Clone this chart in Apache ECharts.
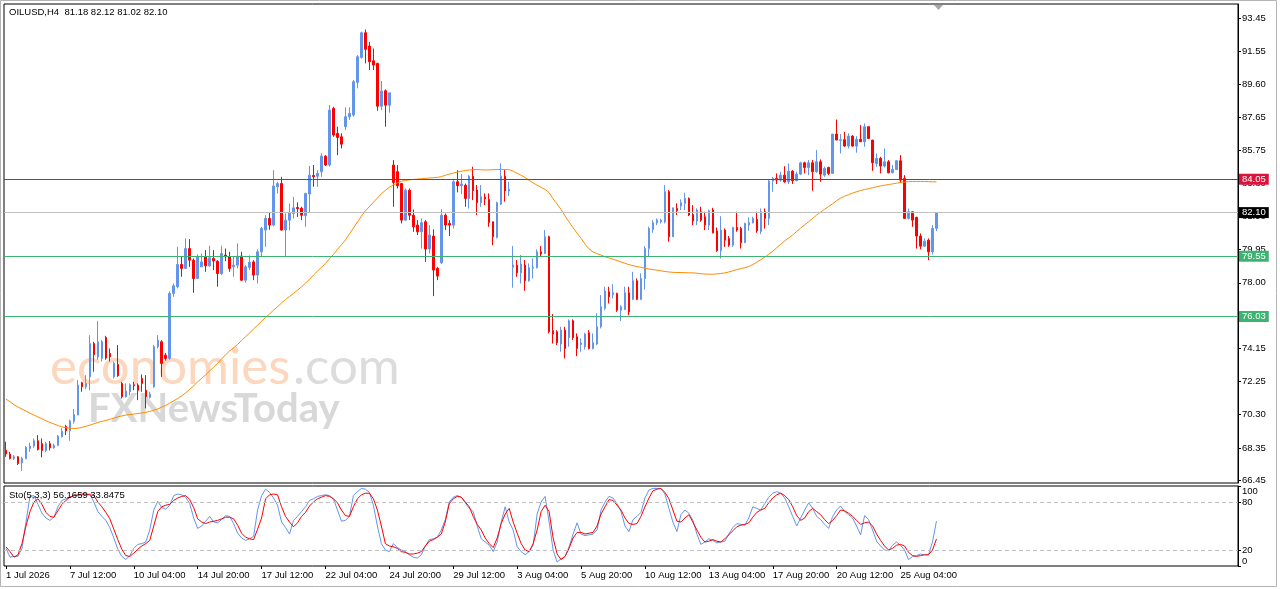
<!DOCTYPE html>
<html>
<head>
	<meta charset="utf-8">
	<title>OILUSD H4</title>
	<script type="text/javascript" src="https://cdn.jsdelivr.net/npm/echarts@6/dist/echarts.min.js"></script>
	<style>html,body{margin:0;padding:0;background:#fff;}</style>
</head>
<body>
	<div id="main" style="width:1280px;height:589px;"></div>
	<script type="text/javascript">
		var symbolName = 'OILUSD,H4';

		// OHLC of every H4 bar
		var openP = [
			68.22, 67.99, 67.73, 67.83, 67.48, 67.73, 68.32, 68.46, 68.77, 68.60,
			68.20, 68.60, 68.35, 68.50, 69.00, 69.60, 69.35, 69.91, 70.27, 72.16,
			71.92, 72.51, 74.45, 73.67, 73.58, 74.80, 73.87, 72.50, 73.23, 72.12,
			71.34, 71.63, 72.04, 72.02, 72.41, 71.72, 71.30, 71.92, 74.26, 74.55,
			73.77, 73.58, 77.38, 77.77, 79.07, 78.84, 80.00, 79.32, 78.25, 78.93,
			79.52, 78.99, 79.42, 79.26, 78.54, 79.62, 79.52, 78.93, 79.03, 79.56,
			78.15, 78.90, 79.22, 78.45, 79.81, 81.08, 81.76, 81.37, 83.61, 83.80,
			81.08, 81.66, 82.05, 82.40, 82.35, 81.92, 83.19, 84.27, 84.22, 84.49,
			85.40, 84.88, 88.19, 86.73, 86.53, 87.12, 87.70, 87.80, 89.71, 91.17,
			92.61, 91.83, 90.97, 90.82, 88.32, 89.22, 88.38, 84.88, 84.49, 83.80,
			81.66, 83.41, 81.95, 81.37, 80.98, 81.56, 79.97, 80.73, 78.84, 79.17,
			81.95, 81.47, 81.37, 83.90, 83.67, 83.70, 82.93, 84.23, 83.42, 82.68,
			83.00, 82.87, 81.57, 80.65, 82.60, 84.23, 83.36, 78.90, 79.03, 78.58,
			79.03, 78.12, 78.85, 78.88, 79.81, 79.71, 80.69, 75.20, 75.14, 74.42,
			75.23, 74.80, 75.78, 74.85, 74.40, 74.26, 75.08, 74.16, 74.42, 75.43,
			76.51, 77.47, 77.30, 77.38, 76.40, 76.44, 77.42, 77.03, 78.12, 77.03,
			78.25, 80.01, 81.12, 81.50, 81.56, 81.56, 83.32, 80.69, 82.34, 82.48,
			82.64, 82.93, 81.99, 81.61, 82.15, 81.86, 81.37, 82.25, 81.03, 79.87,
			81.08, 80.59, 80.20, 81.23, 81.17, 80.34, 81.37, 81.51, 81.70, 81.00,
			82.15, 81.76, 83.94, 84.10, 84.00, 84.29, 83.90, 84.52, 83.96, 84.35,
			85.01, 84.74, 85.01, 84.49, 85.07, 84.29, 84.74, 84.39, 86.69, 86.32,
			86.36, 85.99, 86.57, 85.99, 86.38, 86.24, 87.12, 86.34, 84.97, 85.27,
			84.82, 85.07, 84.43, 84.62, 85.13, 84.10, 81.76, 82.15, 81.82, 80.73,
			80.14, 80.49, 79.81, 81.18
		];
		var highP = [
			68.71, 68.12, 67.93, 67.87, 67.83, 68.46, 68.65, 68.90, 69.10, 68.90,
			68.70, 68.75, 68.60, 69.10, 69.50, 69.70, 70.00, 70.62, 72.31, 72.21,
			72.60, 74.94, 74.55, 75.76, 74.65, 74.90, 74.16, 73.40, 74.36, 72.21,
			72.12, 72.12, 72.21, 72.12, 72.64, 72.60, 71.63, 74.36, 74.94, 74.65,
			73.90, 77.50, 77.96, 80.10, 79.56, 80.59, 80.55, 79.42, 79.66, 79.71,
			79.91, 80.16, 79.91, 79.32, 80.16, 80.00, 79.81, 79.52, 80.30, 79.81,
			79.03, 79.60, 79.32, 79.95, 81.27, 81.95, 82.09, 84.58, 83.90, 84.19,
			82.05, 82.63, 83.02, 82.70, 82.44, 83.26, 84.83, 84.88, 84.58, 85.56,
			85.46, 88.38, 88.28, 87.12, 86.73, 88.25, 88.25, 89.85, 91.30, 92.67,
			92.80, 92.08, 91.69, 90.86, 89.79, 89.30, 89.10, 85.17, 84.88, 83.80,
			83.51, 83.51, 82.28, 81.66, 81.76, 81.66, 81.37, 81.12, 78.93, 82.30,
			82.05, 81.66, 84.00, 84.58, 84.35, 83.80, 84.29, 84.78, 83.71, 83.71,
			83.22, 83.22, 81.57, 82.74, 84.98, 84.62, 83.90, 80.14, 79.33, 79.62,
			79.33, 79.13, 79.42, 79.95, 80.14, 81.08, 80.75, 76.17, 75.23, 75.43,
			75.43, 75.86, 75.86, 75.04, 74.75, 75.08, 75.23, 75.04, 76.21, 77.28,
			77.77, 77.77, 77.92, 77.42, 76.69, 77.77, 77.77, 78.64, 78.25, 78.55,
			80.14, 81.27, 81.66, 81.76, 81.74, 83.71, 83.42, 82.38, 82.64, 82.87,
			83.26, 82.99, 82.54, 82.35, 82.44, 82.15, 82.28, 82.38, 81.23, 81.89,
			81.17, 80.73, 81.27, 82.15, 81.27, 81.51, 81.82, 81.86, 82.15, 82.34,
			82.34, 84.00, 84.19, 84.39, 84.49, 84.81, 84.97, 84.58, 84.49, 85.07,
			85.07, 85.17, 85.17, 85.75, 85.21, 84.78, 84.78, 86.69, 87.54, 86.69,
			86.82, 86.73, 86.63, 86.57, 87.21, 87.31, 87.12, 86.34, 85.56, 85.36,
			85.85, 85.17, 84.88, 85.17, 85.46, 84.29, 82.34, 82.15, 81.86, 80.88,
			80.59, 80.59, 81.37, 82.12
		];
		var lowP = [
			67.83, 67.68, 67.64, 67.35, 67.01, 67.68, 68.12, 68.36, 68.20, 67.80,
			68.10, 68.20, 68.30, 68.45, 68.96, 69.10, 68.77, 69.78, 70.27, 71.63,
			71.78, 71.72, 72.80, 73.50, 73.40, 73.50, 73.40, 72.40, 72.50, 71.24,
			71.30, 71.43, 71.72, 71.14, 71.63, 70.66, 71.24, 71.86, 74.16, 72.50,
			73.45, 73.50, 77.18, 77.67, 78.35, 78.84, 78.93, 77.41, 78.25, 78.93,
			78.64, 78.93, 78.74, 77.77, 78.45, 79.26, 78.64, 78.35, 78.84, 78.10,
			78.00, 78.74, 78.15, 77.96, 79.52, 80.10, 81.10, 81.30, 83.22, 81.05,
			79.52, 81.05, 81.76, 81.85, 81.66, 81.27, 82.09, 83.61, 83.61, 84.19,
			84.82, 84.78, 86.53, 85.46, 85.85, 86.92, 87.51, 87.70, 89.36, 91.10,
			90.82, 90.43, 90.43, 88.05, 88.09, 87.12, 87.94, 82.44, 83.51, 81.47,
			81.62, 81.66, 80.98, 80.79, 80.00, 79.22, 79.71, 77.22, 78.15, 79.10,
			81.08, 80.73, 81.17, 83.28, 83.18, 82.44, 82.34, 82.83, 81.96, 82.44,
			82.54, 81.27, 80.20, 80.59, 82.54, 82.74, 83.07, 77.71, 78.35, 77.96,
			77.53, 78.06, 78.25, 78.84, 79.56, 79.68, 75.04, 74.45, 74.36, 73.97,
			73.58, 74.26, 74.65, 73.71, 73.97, 74.10, 74.10, 74.10, 74.36, 75.33,
			76.40, 76.79, 77.08, 76.30, 75.76, 76.40, 76.11, 76.99, 76.99, 76.99,
			77.61, 79.52, 80.92, 81.37, 81.47, 81.47, 80.40, 80.69, 81.96, 82.25,
			82.25, 81.90, 81.37, 81.37, 81.56, 81.08, 81.08, 80.88, 79.81, 79.42,
			80.10, 80.10, 80.10, 80.98, 80.00, 80.34, 81.04, 81.47, 80.92, 80.84,
			81.17, 81.37, 83.32, 83.77, 83.90, 83.84, 83.77, 83.77, 83.96, 84.29,
			84.39, 84.29, 83.38, 84.43, 83.90, 84.19, 84.29, 84.39, 86.34, 85.56,
			85.95, 85.85, 85.95, 85.60, 86.24, 85.95, 86.43, 84.54, 84.78, 84.39,
			84.74, 84.39, 84.39, 84.58, 83.84, 81.76, 81.70, 81.27, 80.00, 79.95,
			80.10, 79.32, 79.65, 81.02
		];
		var closeP = [
			67.99, 67.73, 67.83, 67.44, 67.73, 68.38, 68.46, 68.77, 68.26, 68.20,
			68.60, 68.35, 68.50, 69.04, 69.33, 69.35, 69.93, 70.31, 72.02, 71.92,
			72.12, 74.45, 73.80, 74.55, 74.55, 73.60, 73.67, 73.29, 72.57, 71.34,
			71.67, 72.04, 71.98, 71.72, 72.12, 71.34, 71.50, 74.26, 74.65, 73.29,
			73.58, 77.38, 77.82, 79.07, 78.84, 80.00, 79.32, 78.25, 79.52, 79.22,
			78.99, 79.46, 79.28, 78.54, 79.71, 79.52, 78.84, 79.03, 79.56, 78.15,
			78.93, 79.20, 78.45, 79.81, 81.17, 81.76, 81.37, 83.65, 83.80, 81.08,
			81.66, 82.09, 82.38, 82.33, 81.95, 83.22, 84.29, 84.20, 84.39, 85.40,
			84.88, 88.09, 86.63, 86.49, 86.10, 87.70, 87.90, 89.75, 91.21, 92.61,
			91.64, 90.91, 90.72, 88.32, 89.20, 88.38, 89.10, 83.86, 83.67, 81.66,
			83.41, 81.95, 81.27, 80.98, 81.51, 79.97, 80.79, 78.74, 78.39, 81.95,
			81.37, 81.37, 83.90, 83.67, 83.77, 82.93, 84.23, 83.38, 82.68, 83.03,
			82.90, 81.51, 80.69, 82.68, 84.23, 83.36, 83.47, 79.05, 78.58, 79.09,
			78.12, 78.88, 78.90, 79.81, 79.68, 80.69, 75.14, 75.00, 74.50, 75.23,
			74.16, 75.78, 74.80, 74.16, 74.48, 75.00, 74.16, 74.50, 75.43, 76.60,
			77.52, 77.18, 77.42, 76.40, 76.60, 77.42, 76.30, 78.12, 77.03, 78.25,
			80.01, 81.18, 81.51, 81.66, 81.66, 83.32, 80.69, 82.38, 82.21, 82.68,
			82.93, 81.96, 81.61, 82.25, 81.66, 81.37, 82.21, 80.92, 79.87, 81.08,
			80.49, 80.20, 81.23, 81.08, 80.34, 81.47, 81.52, 81.76, 81.04, 82.15,
			81.76, 83.94, 84.10, 84.00, 84.29, 83.90, 84.52, 83.96, 84.35, 85.01,
			84.74, 85.01, 84.49, 85.07, 84.35, 84.68, 84.39, 86.69, 86.34, 86.36,
			85.99, 86.57, 85.99, 86.38, 86.24, 87.12, 86.43, 85.01, 85.27, 84.82,
			85.07, 84.43, 84.62, 85.13, 84.00, 81.76, 82.15, 81.66, 80.73, 80.14,
			80.43, 79.81, 81.17, 82.10
		];

		// moving average line (orange)
		var maValues = [
			71.20, 71.05, 70.88, 70.74, 70.62, 70.50, 70.38, 70.27, 70.16, 70.05,
			69.94, 69.84, 69.75, 69.66, 69.58, 69.53, 69.50, 69.49, 69.50, 69.55,
			69.61, 69.68, 69.76, 69.84, 69.90, 69.95, 70.02, 70.09, 70.16, 70.22,
			70.27, 70.30, 70.33, 70.36, 70.39, 70.43, 70.48, 70.55, 70.63, 70.73,
			70.84, 70.97, 71.10, 71.24, 71.39, 71.57, 71.77, 71.98, 72.21, 72.42,
			72.62, 72.85, 73.07, 73.30, 73.55, 73.80, 74.02, 74.20, 74.40, 74.63,
			74.85, 75.07, 75.30, 75.52, 75.75, 75.97, 76.18, 76.40, 76.60, 76.82,
			77.02, 77.20, 77.38, 77.57, 77.76, 77.98, 78.20, 78.45, 78.68, 78.90,
			79.13, 79.40, 79.66, 79.95, 80.22, 80.50, 80.85, 81.20, 81.55, 81.90,
			82.20, 82.45, 82.70, 82.95, 83.20, 83.40, 83.58, 83.72, 83.84, 83.93,
			83.98, 84.01, 84.04, 84.06, 84.08, 84.10, 84.12, 84.14, 84.16, 84.20,
			84.28, 84.35, 84.41, 84.47, 84.52, 84.56, 84.59, 84.61, 84.62, 84.60,
			84.59, 84.60, 84.61, 84.62, 84.62, 84.62, 84.61, 84.52, 84.40, 84.28,
			84.15, 83.98, 83.84, 83.70, 83.58, 83.45, 83.27, 82.90, 82.60, 82.28,
			81.90, 81.55, 81.22, 80.90, 80.60, 80.25, 79.98, 79.80, 79.70, 79.62,
			79.52, 79.45, 79.38, 79.30, 79.22, 79.14, 79.06, 79.00, 78.95, 78.90,
			78.85, 78.80, 78.77, 78.74, 78.70, 78.66, 78.63, 78.61, 78.60, 78.60,
			78.59, 78.58, 78.58, 78.56, 78.53, 78.51, 78.50, 78.50, 78.52, 78.54,
			78.58, 78.63, 78.70, 78.77, 78.83, 78.88, 78.95, 79.06, 79.20, 79.35,
			79.50, 79.67, 79.85, 80.05, 80.25, 80.45, 80.62, 80.80, 81.00, 81.20,
			81.38, 81.57, 81.76, 81.96, 82.13, 82.30, 82.46, 82.62, 82.80, 82.95,
			83.06, 83.15, 83.24, 83.32, 83.39, 83.45, 83.50, 83.56, 83.61, 83.66,
			83.70, 83.74, 83.78, 83.82, 83.86, 83.89, 83.91, 83.92, 83.92, 83.92,
			83.92, 83.91, 83.90, 83.90
		];

		// Stochastic (5,3,3): main and signal lines
		var stochK = [
			22, 11, 12, 12, 22, 55, 87, 88, 77, 66,
			60, 57, 61, 74, 82, 84, 86, 88, 88, 89,
			89, 90, 80, 68, 62, 57, 48, 35, 21, 12,
			8, 13, 22, 27, 28, 30, 45, 70, 81, 73,
			71, 76, 88, 90, 89, 86, 78, 60, 47, 50,
			56, 62, 55, 54, 58, 63, 62, 53, 41, 35,
			32, 34, 37, 70, 88, 96, 92, 85, 76, 55,
			48, 40, 57, 62, 68, 74, 82, 84, 87, 88,
			89, 88, 84, 70, 56, 57, 62, 88, 93, 97,
			96, 92, 76, 50, 28, 20, 18, 28, 23, 20,
			18, 14, 11, 10, 14, 25, 33, 34, 36, 45,
			58, 80, 86, 88, 86, 79, 72, 68, 50, 34,
			30, 26, 18, 30, 55, 74, 55, 45, 24, 18,
			14, 18, 26, 65, 80, 87, 55, 20, 5, 9,
			12, 24, 40, 54, 40, 38, 39, 40, 45, 70,
			80, 87, 85, 78, 68, 50, 43, 58, 62, 67,
			85, 95, 97, 97, 97, 90, 72, 55, 43, 64,
			70, 66, 57, 40, 27, 30, 34, 32, 29, 30,
			31, 40, 48, 53, 52, 51, 60, 74, 72, 70,
			78, 86, 91, 93, 91, 85, 74, 62, 50, 60,
			70, 79, 72, 62, 58, 52, 47, 62, 70, 75,
			68, 64, 60, 50, 39, 63, 58, 45, 31, 25,
			20, 19, 26, 30, 26, 20, 8, 12, 13, 15,
			14, 14, 30, 56.1659
		];
		var stochD = [
			24, 18, 11, 14, 28, 50, 68, 80, 84, 77,
			67, 62, 61, 69, 77, 82, 86, 88, 89, 90,
			90, 89, 88, 80, 74, 67, 59, 46, 33, 21,
			13, 12, 16, 21, 25, 28, 32, 50, 68, 74,
			76, 77, 82, 85, 87, 88, 83, 73, 59, 55,
			53, 55, 56, 57, 59, 61, 61, 59, 51, 41,
			36, 34, 33, 46, 60, 84, 89, 90, 89, 74,
			62, 55, 49, 54, 62, 67, 75, 80, 84, 86,
			88, 87, 84, 79, 70, 63, 62, 74, 84, 89,
			91, 91, 84, 70, 50, 28, 25, 24, 22, 18,
			17, 15, 15, 16, 18, 25, 31, 33, 36, 40,
			55, 78, 84, 87, 86, 80, 74, 62, 52, 45,
			35, 28, 23, 35, 53, 65, 72, 55, 41, 28,
			20, 18, 28, 45, 68, 76, 68, 35, 15, 8,
			12, 22, 35, 42, 42, 40, 41, 42, 50, 65,
			74, 83, 82, 76, 70, 60, 53, 52, 53, 62,
			74, 85, 94, 96, 97, 92, 84, 70, 56, 55,
			60, 64, 55, 45, 36, 30, 31, 33, 31, 30,
			34, 39, 44, 49, 51, 52, 54, 61, 67, 70,
			72, 79, 85, 89, 91, 88, 83, 74, 63, 57,
			60, 68, 72, 68, 64, 58, 53, 57, 63, 70,
			69, 66, 62, 57, 52, 54, 55, 50, 40, 32,
			25, 20, 22, 26, 27, 25, 17, 13, 12, 13,
			14, 14, 20, 33.8475
		];

		// time axis labels, one every 16 bars
		var xTickLabels = ['1 Jul 2026', '7 Jul 12:00', '10 Jul 04:00', '14 Jul 20:00', '17 Jul 12:00',
			'22 Jul 04:00', '24 Jul 20:00', '29 Jul 12:00', '3 Aug 04:00', '5 Aug 20:00',
			'10 Aug 12:00', '13 Aug 04:00', '17 Aug 20:00', '20 Aug 12:00', '25 Aug 04:00'];
		var priceTicks = [66.45, 68.35, 70.30, 72.25, 74.15, 76.10, 78.00, 79.95, 81.90, 83.80, 85.75, 87.65, 89.60, 91.55, 93.45];
		var stochTicks = [0, 20, 80, 100];
		var stochLevels = [20, 80];
		var resistance = [84.05];
		var supports = [79.55, 76.03];

		const LABEL_EVERY = 16;
		const SLOTS = 309; // bar slots across the chart width (right side left empty)
		const FONT = 'Liberation Sans';
		const FS = 9.5;

		var last = closeP.length - 1;
		var lastPrice = closeP[last];

		var cats = [];
		for (var i = 0; i < SLOTS; i++) cats.push(i);

		var candles = openP.map(function(o, i) {
			return [o, closeP[i], lowP[i], highP[i]];
		});

		function tag(v, bg, line) {
			return {
				yAxis: v,
				lineStyle: { color: line, width: 1, type: 'solid' },
				label: { backgroundColor: bg }
			};
		}
		var levelLines = [];
		resistance.forEach(function(v) { levelLines.push(tag(v, '#DC143C', '#DC143C')); });
		levelLines.push(tag(lastPrice, '#000000', '#C0C0C0'));
		supports.forEach(function(v) { levelLines.push(tag(v, '#3CB371', '#3CB371')); });

		var showTick = function(idx) {
			return idx % LABEL_EVERY === 0 && idx / LABEL_EVERY < xTickLabels.length;
		};

		var myChart = echarts.init(document.getElementById('main'));

		var option = {
			animation: false,
			backgroundColor: '#ffffff',
			textStyle: { fontFamily: FONT },
			grid: [
				{ left: 4, top: 4, width: 1234, height: 479, show: true, borderColor: '#000', borderWidth: 1, backgroundColor: 'transparent' },
				{ left: 4, top: 486, width: 1234, height: 80, show: true, borderColor: '#000', borderWidth: 1, backgroundColor: 'transparent' }
			],
			xAxis: [
				{
					type: 'category', gridIndex: 0, data: cats, boundaryGap: true,
					axisLine: { show: false }, axisTick: { show: false }, axisLabel: { show: false }, splitLine: { show: false }
				},
				{
					type: 'category', gridIndex: 1, data: cats, boundaryGap: true,
					axisLine: { show: false },
					axisTick: { show: true, interval: showTick, alignWithLabel: true, length: 3, lineStyle: { color: '#000' } },
					axisLabel: {
						interval: showTick,
						formatter: function(v, idx) { return xTickLabels[idx / LABEL_EVERY]; },
						align: 'left', margin: 4, color: '#000', fontSize: FS, fontFamily: FONT
					},
					splitLine: { show: false }
				}
			],
			yAxis: [
				{
					type: 'value', gridIndex: 0, position: 'right', min: 66.30, max: 94.29,
					splitLine: { show: false },
					axisLine: { show: true, lineStyle: { color: '#000' } },
					axisTick: { show: true, length: 3, customValues: priceTicks, lineStyle: { color: '#000' } },
					axisLabel: {
						customValues: priceTicks,
						formatter: function(v) { return v.toFixed(2); },
						margin: 4, color: '#000', fontSize: FS, fontFamily: FONT
					}
				},
				{
					type: 'value', gridIndex: 1, position: 'right', min: 0, max: 100,
					splitLine: { show: false },
					axisLine: { show: true, lineStyle: { color: '#000' } },
					axisTick: { show: true, length: 3, customValues: stochTicks, lineStyle: { color: '#000' } },
					axisLabel: {
						customValues: stochTicks,
						verticalAlignMinLabel: 'bottom', verticalAlignMaxLabel: 'top',
						margin: 4, color: '#000', fontSize: FS, fontFamily: FONT
					}
				}
			],
			series: [
				{
					name: 'price', type: 'candlestick', xAxisIndex: 0, yAxisIndex: 0,
					data: candles, barWidth: 2,
					itemStyle: { color: '#6495ED', color0: '#FF0000', borderColor: '#6495ED', borderColor0: '#FF0000', borderWidth: 1 },
					markLine: {
						silent: true, symbol: ['none', 'none'], animation: false,
						label: {
							show: true, position: 'end', distance: 1,
							formatter: function(p) { return p.value.toFixed(2); },
							color: '#fff', fontSize: FS, fontFamily: FONT, padding: [1, 3, 0, 3]
						},
						data: levelLines
					}
				},
				{
					name: 'MA', type: 'line', xAxisIndex: 0, yAxisIndex: 0, data: maValues,
					showSymbol: false, symbol: 'none', z: 3,
					lineStyle: { color: '#FF8C00', width: 1 }
				},
				{
					name: 'Sto main', type: 'line', xAxisIndex: 1, yAxisIndex: 1, data: stochK,
					showSymbol: false, symbol: 'none',
					lineStyle: { color: '#6495ED', width: 1 },
					markLine: {
						silent: true, symbol: ['none', 'none'], animation: false,
						label: { show: false },
						lineStyle: { color: '#C0C0C0', type: [4, 3], width: 1 },
						data: stochLevels.map(function(v) { return { yAxis: v }; })
					}
				},
				{
					name: 'Sto signal', type: 'line', xAxisIndex: 1, yAxisIndex: 1, data: stochD,
					showSymbol: false, symbol: 'none',
					lineStyle: { color: '#FF0000', width: 1 }
				}
			],
			graphic: [
				{ type: 'rect', silent: true, shape: { x: 0.5, y: 0.5, width: 1276, height: 586 }, style: { fill: 'none', stroke: '#B4B4B4', lineWidth: 1 } },
				{ type: 'text', silent: true, x: 50, y: 368, style: { text: 'economies', font: '51px Lato', fill: '#FCD6BD', verticalAlign: 'middle' } },
				{ type: 'text', silent: true, x: 293, y: 368, style: { text: '.com', font: '51px Lato', fill: '#DCDCDC', verticalAlign: 'middle' } },
				{ type: 'text', silent: true, x: 88, y: 409, style: { text: 'FXNewsToday', font: 'bold 40px Lato', fill: '#D8D8D8', verticalAlign: 'middle' } },
				{ type: 'polygon', silent: true, shape: { points: [[934, 5], [943, 5], [938.5, 10]] }, style: { fill: '#A8A8A8' } },
				{
					type: 'text', silent: true, x: 9, y: 12.5, z: 10,
					style: {
						text: symbolName + '  ' + [openP[last], highP[last], lowP[last], closeP[last]].map(function(v) { return v.toFixed(2); }).join(' '),
						font: FS + 'px ' + FONT, fill: '#000', verticalAlign: 'middle'
					}
				},
				{
					type: 'text', silent: true, x: 9, y: 495, z: 10,
					style: {
						text: 'Sto(5,3,3) ' + stochK[last].toFixed(4) + ' ' + stochD[last].toFixed(4),
						font: FS + 'px ' + FONT, fill: '#000', verticalAlign: 'middle'
					}
				}
			]
		};

		myChart.setOption(option);
	</script>
</body>
</html>
